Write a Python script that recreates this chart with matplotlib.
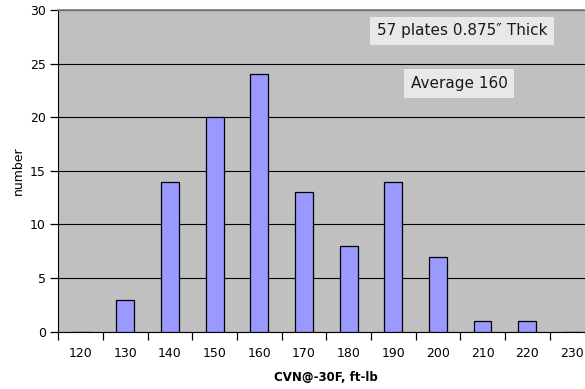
import matplotlib.pyplot as plt

categories = ["120", "130", "140", "150", "160", "170", "180", "190", "200", "210", "220", "230"]
counts = [0, 3, 14, 20, 24, 13, 8, 14, 7, 1, 1, 0]
y_ticks = [0, 5, 10, 15, 20, 25, 30]
note_title = "57 plates 0.875\u2033 Thick"
note_avg = "Average 160"

fig = plt.figure(figsize=(5.85, 3.89), dpi=100)
ax = fig.add_axes([0.0997, 0.1473, 0.916, 0.827])
ax.set_facecolor("#C0C0C0")

pos = list(range(len(categories)))
ax.bar(pos, counts, width=0.4, color="#9999FF", edgecolor="black", linewidth=0.9, zorder=3)

ax.set_xlim(-0.5, len(categories) - 0.5)
ax.set_ylim(0, 30)
ax.set_yticks(y_ticks)
ax.yaxis.grid(True, color="black", linewidth=0.8)
ax.set_axisbelow(True)

# category labels on minor ticks, tick marks on boundaries
ax.set_xticks([p - 0.5 for p in pos] + [len(categories) - 0.5])
ax.set_xticklabels([])
ax.set_xticks(pos, minor=True)
ax.set_xticklabels(categories, minor=True)
ax.tick_params(axis="x", which="major", length=6, width=0.9, direction="out")
ax.tick_params(axis="x", which="minor", length=0, pad=11, labelsize=9)
ax.tick_params(axis="y", length=6, width=0.9, labelsize=9, pad=3)

ax.spines["left"].set_color("black")
ax.spines["bottom"].set_color("black")
ax.spines["top"].set_color("#808080")
ax.spines["top"].set_linewidth(1.2)
ax.spines["right"].set_visible(False)

ax.set_ylabel("number", fontsize=9)
ax.yaxis.set_label_coords(-0.062, 0.5)
ax.set_xlabel("CVN@-30F, ft-lb", fontsize=8.5, fontweight="bold", labelpad=8)

box = dict(boxstyle="square,pad=0.45", facecolor="#E8E8E8", edgecolor="none")
fig.text(462 / 585, 1 - 31 / 389, note_title, ha="center", va="center", fontsize=11, color="#1a1a1a", bbox=box)
fig.text(459 / 585, 1 - 83.5 / 389, note_avg, ha="center", va="center", fontsize=11, color="#1a1a1a", bbox=box)

fig.savefig("out.png", dpi=100)
